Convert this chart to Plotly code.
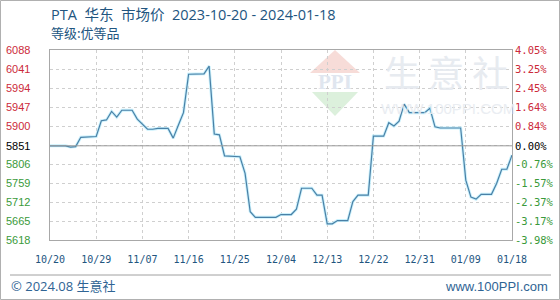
import plotly.graph_objects as go

# ---------------- data ----------------
dates = ["2023-10-20", "2023-10-23", "2023-10-24", "2023-10-25", "2023-10-26", "2023-10-29",
         "2023-10-30", "2023-10-31", "2023-11-01", "2023-11-02", "2023-11-03", "2023-11-05",
         "2023-11-06", "2023-11-08", "2023-11-09", "2023-11-10", "2023-11-12", "2023-11-13",
         "2023-11-14", "2023-11-15", "2023-11-16", "2023-11-19", "2023-11-20", "2023-11-21",
         "2023-11-22", "2023-11-23", "2023-11-26", "2023-11-27", "2023-11-28", "2023-11-29",
         "2023-12-03", "2023-12-04", "2023-12-06", "2023-12-07", "2023-12-08", "2023-12-10",
         "2023-12-11", "2023-12-12", "2023-12-13", "2023-12-14", "2023-12-15", "2023-12-17",
         "2023-12-18", "2023-12-19", "2023-12-21", "2023-12-22", "2023-12-24", "2023-12-25",
         "2023-12-26", "2023-12-27", "2023-12-28", "2023-12-29", "2024-01-01", "2024-01-02",
         "2024-01-03", "2024-01-04", "2024-01-08", "2024-01-09", "2024-01-10", "2024-01-11",
         "2024-01-12", "2024-01-14", "2024-01-15", "2024-01-16", "2024-01-17", "2024-01-18"]
prices = [5851, 5851, 5848, 5849, 5872, 5874,
          5913, 5915, 5936, 5922, 5939, 5939,
          5917, 5892, 5892, 5894, 5894, 5870,
          5902, 5933, 6028, 6029, 6048, 5880,
          5878, 5826, 5824, 5783, 5688, 5674,
          5674, 5681, 5681, 5694, 5746, 5746,
          5729, 5729, 5658, 5658, 5666, 5666,
          5713, 5729, 5729, 5875, 5875, 5908,
          5900, 5912, 5954, 5933, 5933, 5944,
          5898, 5895, 5895, 5766, 5724, 5719,
          5731, 5731, 5758, 5793, 5793, 5828]

base_price = 5851
y_tick_vals = [5618, 5665, 5712, 5759, 5806, 5851, 5900, 5947, 5994, 6041, 6088]
y_tick_pct = ["-3.98%", "-3.17%", "-2.37%", "-1.57%", "-0.76%", "0.00%",
              "0.84%", "1.64%", "2.45%", "3.25%", "4.05%"]
x_tick_dates = ["2023-10-20", "2023-10-29", "2023-11-07", "2023-11-16", "2023-11-25",
                "2023-12-04", "2023-12-13", "2023-12-22", "2023-12-31", "2024-01-09",
                "2024-01-18"]
x_tick_labels = ["10/20", "10/29", "11/07", "11/16", "11/25", "12/04", "12/13",
                 "12/22", "12/31", "01/09", "01/18"]

title_text = "PTA\u00a0 华东\u00a0 市场价\u00a0 2023-10-20 - 2024-01-18"
subtitle_text = "等级:优等品"
footer_left = "© 2024.08 生意社"
footer_right = "www.100PPI.com"

# ---------------- layout geometry ----------------
W, H = 560, 300
L, R, T, B = 50, 48, 50, 60
PW, PH = W - L - R, H - T - B


def px(x):
    return (x - L) / PW


def py(y):
    return (H - B - y) / PH


RED = "#cc2a3a"
GREEN = "#3a9a3a"
BLUE = "#22557f"
CJK = "Noto Sans CJK SC"
TITLE_FONT = "Open Sans, Noto Sans CJK SC"

fig = go.Figure()

# halo line
fig.add_trace(go.Scatter(x=dates, y=prices, mode="lines",
                         line=dict(color="rgba(195,238,252,0.9)", width=3),
                         hoverinfo="skip", showlegend=False))
# main line
fig.add_trace(go.Scatter(x=dates, y=prices, mode="lines",
                         line=dict(color="#4a80a6", width=1.2),
                         showlegend=False))

shapes = []
# watermark logo (roof + inverted triangle)
shapes.append(dict(type="path", xref="paper", yref="paper", layer="below",
                   path=f"M {px(310)} {py(73)} L {px(335)} {py(50)} L {px(360)} {py(73)} Z",
                   fillcolor="#f7dcd8", line=dict(width=0)))
shapes.append(dict(type="path", xref="paper", yref="paper", layer="below",
                   path=f"M {px(312)} {py(92)} L {px(358)} {py(92)} L {px(335)} {py(116)} Z",
                   fillcolor="#dcf0dc", line=dict(width=0)))
# base line (0.00%)
shapes.append(dict(type="line", xref="paper", yref="y", x0=0, x1=1,
                   y0=base_price, y1=base_price, line=dict(color="#9a9a9a", width=1)))
# footer separator
shapes.append(dict(type="line", xref="paper", yref="paper", x0=px(10), x1=px(551),
                   y0=py(275), y1=py(275), line=dict(color="#a0a0a0", width=1)))
# outer border
shapes.append(dict(type="rect", xref="paper", yref="paper", x0=px(0.5), x1=px(559.5),
                   y0=py(299.5), y1=py(0.5), line=dict(color="#b0b0b0", width=1)))

annotations = []
# watermark text
annotations.append(dict(text="<b>PPI</b>", xref="paper", yref="paper", x=px(335), y=py(82),
                        showarrow=False, font=dict(family="Liberation Serif", size=21, color="#e0e6ef"),
                        xanchor="center", yanchor="middle"))
annotations.append(dict(text="生 意 社", xref="paper", yref="paper", x=px(446), y=py(71),
                        showarrow=False, font=dict(family=CJK, size=36, color="#e5e9ef"),
                        xanchor="center", yanchor="middle", opacity=0.9))
annotations.append(dict(text="WWW.100PPI.COM", xref="paper", yref="paper", x=px(448), y=py(108),
                        showarrow=False, font=dict(family="Liberation Sans", size=15, color="#e8ecf1"),
                        xanchor="center", yanchor="middle", opacity=0.9))

# y labels left and right
for v, pct in zip(y_tick_vals, y_tick_pct):
    col = RED if v > base_price else (GREEN if v < base_price else "#000000")
    annotations.append(dict(text=str(v), xref="paper", yref="y", x=px(4), y=v,
                            showarrow=False, xanchor="left", yanchor="middle",
                            font=dict(family="Liberation Sans", size=11, color=col)))
    annotations.append(dict(text=pct, xref="paper", yref="y", x=px(513), y=v,
                            showarrow=False, xanchor="left", yanchor="middle",
                            font=dict(family="DejaVu Sans Mono", size=10.5, color=col)))

# titles
annotations.append(dict(text=title_text, xref="paper", yref="paper", x=px(49), y=py(14),
                        showarrow=False, xanchor="left", yanchor="middle",
                        font=dict(family=TITLE_FONT, size=14.5, color=BLUE)))
annotations.append(dict(text=subtitle_text, xref="paper", yref="paper", x=px(49), y=py(33),
                        showarrow=False, xanchor="left", yanchor="middle",
                        font=dict(family=CJK, size=13, color=BLUE)))
# footer
annotations.append(dict(text=footer_left, xref="paper", yref="paper", x=px(9), y=py(286),
                        showarrow=False, xanchor="left", yanchor="middle",
                        font=dict(family=TITLE_FONT, size=13, color="#2f6494")))
annotations.append(dict(text=footer_right, xref="paper", yref="paper", x=px(550), y=py(286),
                        showarrow=False, xanchor="right", yanchor="middle",
                        font=dict(family="Liberation Sans", size=13, color="#2f6494")))

fig.update_layout(
    width=W, height=H,
    margin=dict(l=L, r=R, t=T, b=B),
    paper_bgcolor="white", plot_bgcolor="white",
    shapes=shapes, annotations=annotations,
    showlegend=False,
    xaxis=dict(range=[dates[0], x_tick_dates[-1]], tickmode="array",
               tickvals=x_tick_dates, ticktext=x_tick_labels,
               showgrid=True, gridcolor="#cfcfcf", griddash="dot", gridwidth=1,
               showline=True, linecolor="#a8a8a8", mirror=True, linewidth=1,
               ticks="outside", ticklen=10, tickcolor="rgba(0,0,0,0)",
               tickfont=dict(family="DejaVu Sans Mono", size=10, color=BLUE),
               zeroline=False, fixedrange=True),
    yaxis=dict(range=[y_tick_vals[0], y_tick_vals[-1]], tickmode="array",
               tickvals=y_tick_vals, showticklabels=False,
               showgrid=True, gridcolor="#cfcfcf", griddash="dot", gridwidth=1,
               showline=True, linecolor="#a8a8a8", mirror=True, linewidth=1,
               zeroline=False, fixedrange=True),
)

fig.write_html("out.html", config={"displayModeBar": False})
